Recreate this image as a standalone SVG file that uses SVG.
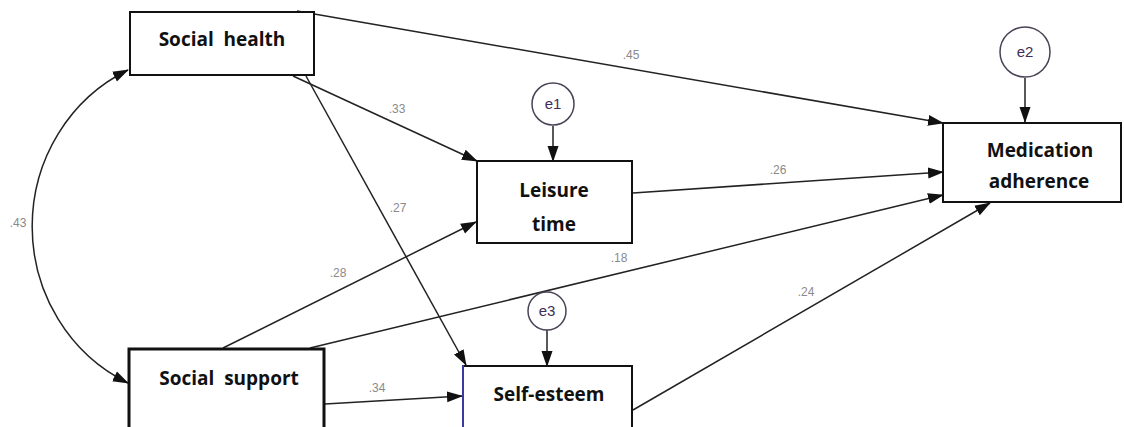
<svg xmlns="http://www.w3.org/2000/svg" width="1124" height="427" viewBox="0 0 1124 427">
<defs>
<marker id="ah" markerUnits="userSpaceOnUse" markerWidth="16" markerHeight="12" refX="15" refY="5.5" orient="auto-start-reverse" viewBox="0 0 16 11">
<path d="M0,0 L16,5.5 L0,11 z" fill="#111"/>
</marker>
<style>
.box{fill:#fff;stroke:#111;stroke-width:2}
.lbl{font-family:"Open Sans","Liberation Sans",sans-serif;font-weight:700;font-size:19px;fill:#111;text-anchor:middle}
.w{font-family:"Liberation Sans",Arial,sans-serif;font-size:12px;fill:#8a8a8a;text-anchor:middle}
.err{fill:#fff;stroke:#4a4256;stroke-width:1.5}
.et{font-family:"Liberation Sans",Arial,sans-serif;font-size:15px;fill:#3d2f55;text-anchor:middle}
.ln{fill:none;stroke:#222;stroke-width:1.5}
</style>
</defs>
<rect width="1124" height="427" fill="#fff"/>
<g id="connectors">
<line class="ln" x1="297" y1="11" x2="943" y2="123" marker-end="url(#ah)"/>
<line class="ln" x1="293" y1="76" x2="477" y2="161" marker-end="url(#ah)"/>
<line class="ln" x1="306" y1="76" x2="466" y2="365" marker-end="url(#ah)"/>
<path class="ln" d="M128,70 A167,173 0 0 0 128,383" marker-start="url(#ah)" marker-end="url(#ah)"/>
<line class="ln" x1="223" y1="348" x2="476" y2="222" marker-end="url(#ah)"/>
<line class="ln" x1="310" y1="348" x2="943" y2="195" marker-end="url(#ah)"/>
<line class="ln" x1="325" y1="404" x2="462" y2="396" marker-end="url(#ah)"/>
<line class="ln" x1="633" y1="193" x2="943" y2="172" marker-end="url(#ah)"/>
<line class="ln" x1="633" y1="410" x2="990" y2="203" marker-end="url(#ah)"/>
<line class="ln" x1="553" y1="126" x2="553" y2="161" marker-end="url(#ah)"/>
<line class="ln" x1="1025" y1="78" x2="1025" y2="122" marker-end="url(#ah)"/>
<line class="ln" x1="547" y1="330" x2="547" y2="366" marker-end="url(#ah)"/>
<text class="w" x="631" y="59">.45</text>
<text class="w" x="397" y="113">.33</text>
<text class="w" x="398" y="212">.27</text>
<text class="w" x="18" y="227">.43</text>
<text class="w" x="338" y="277">.28</text>
<text class="w" x="377" y="392">.34</text>
<text class="w" x="778" y="174">.26</text>
<text class="w" x="619" y="262">.18</text>
<text class="w" x="806" y="296">.24</text>
</g>
<g id="social-health">
<rect class="box" x="130" y="12" width="184" height="63"/>
<text class="lbl" x="222" y="46" xml:space="preserve">Social  health</text>
</g>
<g id="leisure-time">
<rect class="box" x="477" y="161" width="155" height="82"/>
<text class="lbl" x="554" y="197">Leisure</text>
<text class="lbl" x="554" y="231">time</text>
</g>
<g id="medication-adherence">
<rect class="box" x="943" y="123" width="178" height="79"/>
<text class="lbl" x="1040" y="157">Medication</text>
<text class="lbl" x="1039" y="188">adherence</text>
</g>
<g id="social-support">
<rect class="box" x="129" y="349" width="195" height="90" style="stroke-width:3"/>
<text class="lbl" x="229" y="385" xml:space="preserve">Social  support</text>
</g>
<g id="self-esteem">
<rect class="box" x="463" y="366" width="169" height="80"/>
<line x1="463" y1="365" x2="463" y2="427" stroke="#3a3aa0" stroke-width="2"/>
<text class="lbl" x="549" y="401">Self-esteem</text>
</g>
<g id="e1">
<circle class="err" cx="553" cy="104" r="21"/>
<text class="et" x="553" y="109">e1</text>
</g>
<g id="e2">
<circle class="err" cx="1025" cy="52" r="25"/>
<text class="et" x="1025" y="57">e2</text>
</g>
<g id="e3">
<circle class="err" cx="547" cy="311" r="19"/>
<text class="et" x="547" y="316">e3</text>
</g>
</svg>
